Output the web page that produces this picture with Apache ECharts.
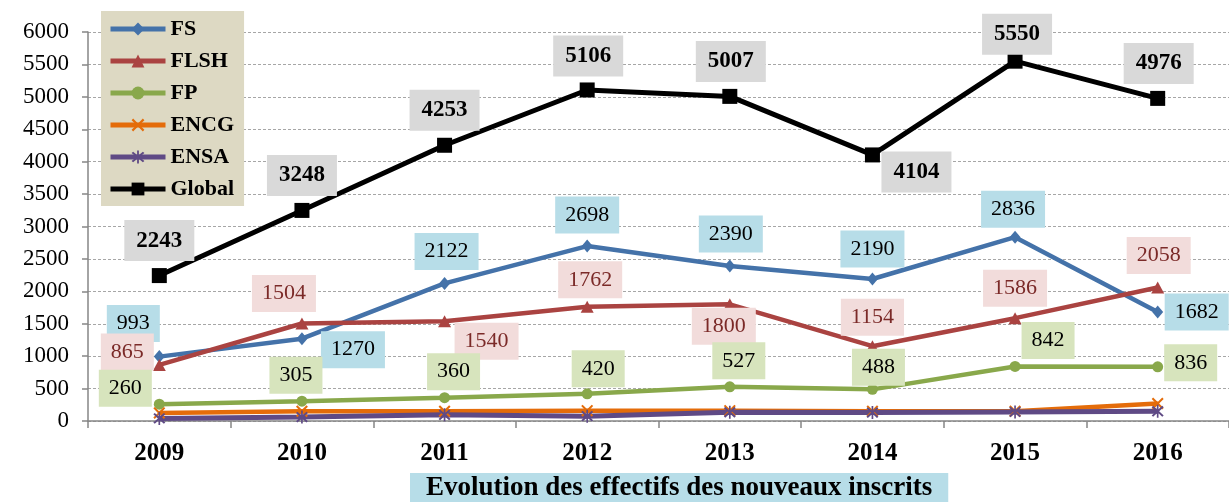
<!DOCTYPE html>
<html><head><meta charset="utf-8">
<script src="https://cdn.jsdelivr.net/npm/echarts@6/dist/echarts.min.js"></script>
<style>html,body{margin:0;padding:0;background:#fff}#c{width:1229px;height:502px}</style>
</head><body><div id="c"></div>
<script>
// ---- data ----
const categories = ['2009', '2010', '2011', '2012', '2013', '2014', '2015', '2016'];
const fsValues = [993, 1270, 2122, 2698, 2390, 2190, 2836, 1682];
const flshValues = [865, 1504, 1540, 1762, 1800, 1154, 1586, 2058];
const fpValues = [260, 305, 360, 420, 527, 488, 842, 836];
const encgValues = [125, 150, 150, 160, 160, 150, 150, 270];
const ensaValues = [40, 60, 95, 75, 135, 130, 140, 150];
const globalValues = [2243, 3248, 4253, 5106, 5007, 4104, 5550, 4976];
const yTicks = { min: 0, max: 6000, interval: 500 };
const titleText = 'Evolution des effectifs des nouveaux inscrits';

// ---- label placement (layout only) ----
const fsOff = [[-26,-33],[51,11],[2,-32],[0,-31],[1,-32],[0,-30],[-2,-28],[39,0]];
const flshOff = [[-32,-13],[-18,-30],[42,20],[3,-27],[-6,22],[0,-29],[0,-30],[1,-32]];
const fpOff = [[-34,-16],[-6,-26],[9,-26],[11,-25],[9,-26],[6,-22],[33,-26],[33,-4]];
const globalOff = [[0,-35],[0,-35],[0,-35],[1,-34],[1,-35],[44,17],[2,-27],[1,-35]];

const FONT = '"Liberation Serif", "Times New Roman", serif';
const X_PATH = 'path://M0,1.2 L1.2,0 L5,3.8 L8.8,0 L10,1.2 L6.2,5 L10,8.8 L8.8,10 L5,6.2 L1.2,10 L0,8.8 L3.8,5 Z';
const AST_PATH = 'path://M0,1.2 L1.2,0 L5,3.8 L8.8,0 L10,1.2 L6.2,5 L10,8.8 L8.8,10 L5,6.2 L1.2,10 L0,8.8 L3.8,5 Z M4.3,-1 L5.7,-1 L5.7,11 L4.3,11 Z';

function withOffsets(vals, offs) {
  return vals.map((v, i) => ({ value: v, label: { offset: offs[i] } }));
}
function labelStyle(bg, color, bold) {
  return {
    show: true, position: 'inside', formatter: '{c}',
    fontFamily: FONT, fontSize: bold ? 23 : 22, fontWeight: bold ? 'bold' : 'normal',
    color: color, backgroundColor: bg,
    lineHeight: bold ? 23 : 22,
    padding: bold ? [9, 12, 9, 12] : [7, 10, 8, 10],
    align: 'center', verticalAlign: 'middle'
  };
}

const chart = echarts.init(document.getElementById('c'), null, { renderer: 'canvas' });
chart.setOption({
  animation: false,
  backgroundColor: '#ffffff',
  grid: { left: 88, top: 32, width: 1148, height: 389, containLabel: false },
  legend: {
    orient: 'vertical', left: 101, top: 11,
    itemWidth: 55, itemHeight: 16, itemGap: 10,
    padding: [7, 10, 6, 7],
    backgroundColor: '#ddd9c3',
    lineStyle: { width: 5 },
    textStyle: { fontFamily: FONT, fontSize: 22, fontWeight: 'bold', color: '#000', lineHeight: 20 },
    data: ['FS', 'FLSH', 'FP', 'ENCG', 'ENSA', 'Global']
  },
  xAxis: {
    type: 'category', data: categories, boundaryGap: true,
    axisLine: { lineStyle: { color: '#868686', width: 1.5 } },
    axisTick: { show: true, length: 7, lineStyle: { color: '#868686', width: 1.5 } },
    axisLabel: { fontFamily: FONT, fontSize: 25, fontWeight: 'bold', color: '#000', margin: 20 },
    splitLine: { show: false }
  },
  yAxis: {
    type: 'value', min: yTicks.min, max: yTicks.max, interval: yTicks.interval,
    axisLine: { show: true, lineStyle: { color: '#868686', width: 1.5 } },
    axisTick: { show: true, length: 6, lineStyle: { color: '#868686', width: 1.5 } },
    axisLabel: { fontFamily: FONT, fontSize: 23, color: '#000', margin: 19,
      formatter: function (v) { return String(v); } },
    splitLine: { show: true, lineStyle: { color: '#a6a6a6', width: 1, type: [3, 2] } }
  },
  series: [
    { name: 'FS', type: 'line', data: withOffsets(fsValues, fsOff),
      symbol: 'diamond', symbolSize: [11, 13], color: '#4472a9',
      lineStyle: { width: 4.5, color: '#4472a9' }, itemStyle: { color: '#4472a9' },
      label: labelStyle('#b7dde8', '#000', false), z: 3 },
    { name: 'FLSH', type: 'line', data: withOffsets(flshValues, flshOff),
      symbol: 'triangle', symbolSize: [13, 12], color: '#aa4341',
      lineStyle: { width: 4.5, color: '#aa4341' }, itemStyle: { color: '#aa4341' },
      label: labelStyle('#f2dcdb', '#7b2a28', false), z: 3 },
    { name: 'FP', type: 'line', data: withOffsets(fpValues, fpOff),
      symbol: 'circle', symbolSize: 11, color: '#89a84b',
      lineStyle: { width: 4.5, color: '#89a84b' }, itemStyle: { color: '#89a84b' },
      label: labelStyle('#d7e4bd', '#000', false), z: 3 },
    { name: 'ENCG', type: 'line', data: encgValues,
      symbol: X_PATH, symbolSize: [12, 12], color: '#e46c0a',
      lineStyle: { width: 4.5, color: '#e46c0a' }, itemStyle: { color: '#e46c0a' }, z: 3 },
    { name: 'ENSA', type: 'line', data: ensaValues,
      symbol: AST_PATH, symbolSize: [12, 13], color: '#5f4a85',
      lineStyle: { width: 5, color: '#5f4a85' }, itemStyle: { color: '#5f4a85' }, z: 3 },
    { name: 'Global', type: 'line', data: withOffsets(globalValues, globalOff),
      symbol: 'rect', symbolSize: 15, color: '#000',
      lineStyle: { width: 5, color: '#000' }, itemStyle: { color: '#000' },
      label: labelStyle('#d9d9d9', '#000', true), z: 3 }
  ],
  graphic: [{
    type: 'text', left: 410, top: 473, z: 10,
    style: {
      text: titleText, fontFamily: FONT, fontSize: 27, fontWeight: 'bold', fill: '#000',
      backgroundColor: '#b7dde8', padding: [2, 16, 4, 16]
    }
  }]
});
</script></body></html>
